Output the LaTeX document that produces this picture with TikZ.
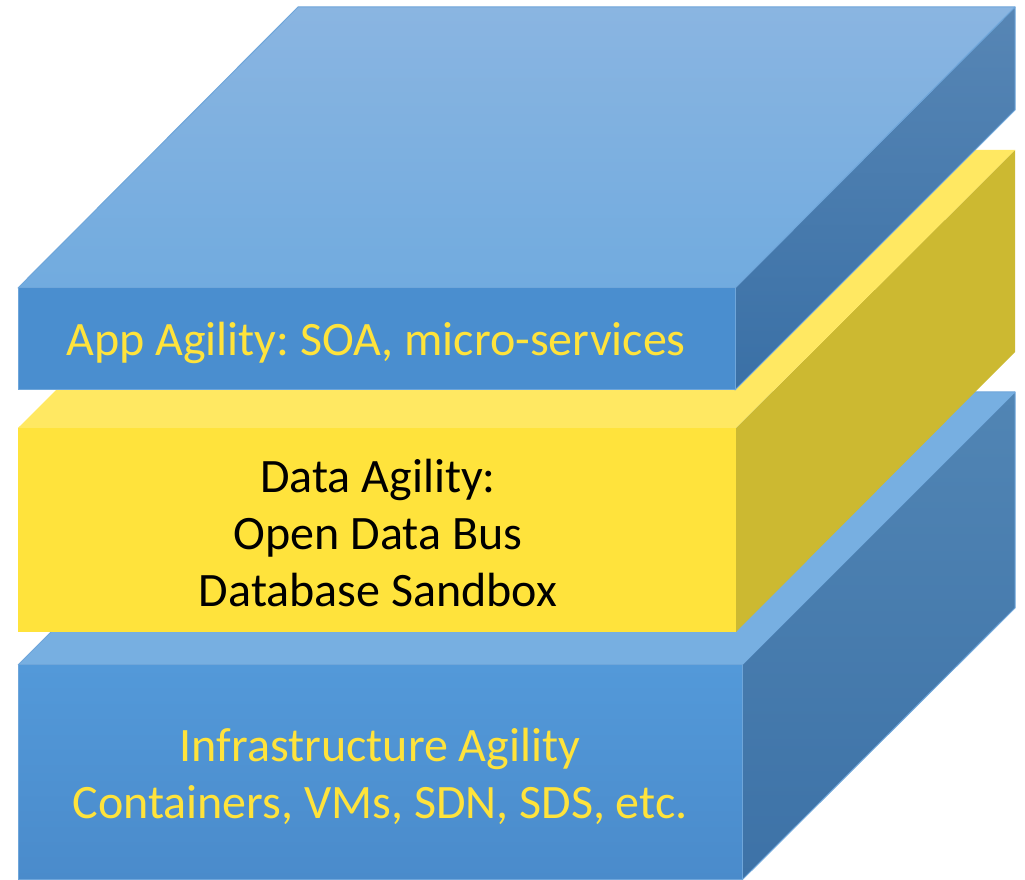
\documentclass[tikz,border=0pt]{standalone}
\usepackage{fontspec}
\setmainfont{Carlito}
\usetikzlibrary{positioning}

\definecolor{appfront}{HTML}{4A8ECF}
\definecolor{apptopA}{HTML}{8AB5E1}
\definecolor{apptopB}{HTML}{71ABDF}
\definecolor{appsideA}{HTML}{5786B5}
\definecolor{appsideB}{HTML}{3A70A6}
\definecolor{datafront}{HTML}{FFE33C}
\definecolor{datatop}{HTML}{FFE862}
\definecolor{dataside}{HTML}{CCB931}
\definecolor{infrafrontA}{HTML}{5399D9}
\definecolor{infrafrontB}{HTML}{4A8BCB}
\definecolor{infratop}{HTML}{77AFE1}
\definecolor{infrasideA}{HTML}{5185B4}
\definecolor{infrasideB}{HTML}{3D72A7}
\definecolor{edgeblue}{HTML}{6FA6DA}
\definecolor{labelyellow}{HTML}{FFE33B}

\tikzset{
  blueface/.style={draw=edgeblue, line width=1pt, line join=round},
  layertext/.style={font=\fontsize{48}{57}\selectfont\frenchspacing, align=center},
}

\begin{document}
\begin{tikzpicture}[x=1pt,y=1pt]
  \useasboundingbox (0,0) rectangle (1025,880);

  % infrastructure layer
  \coordinate (i_fl) at (18,0);
  \coordinate (i_fr) at (742,0);
  \coordinate (i_tr) at (742,215);
  \coordinate (i_tl) at (18,215);
  \coordinate (i_br) at (1015,488);
  \coordinate (i_bl) at (291,488);
  \coordinate (i_dr) at (1015,272);
  \shade[blueface, top color=infrasideA, bottom color=infrasideB]
    (i_tr) -- (i_br) -- (i_dr) -- (i_fr) -- cycle;
  \fill[infratop] (i_tl) -- (i_tr) -- (i_br) -- (i_bl) -- cycle;
  \draw[edgeblue, line width=1pt] (i_tl) -- (i_bl) -- (i_br);
  \shade[blueface, top color=infrafrontA, bottom color=infrafrontB]
    (i_fl) rectangle (i_tr);
  \node[layertext, text=labelyellow] (infra) at (380,104)
    {Infrastructure Agility\\Containers, VMs, SDN, SDS, etc.};

  % data layer
  \coordinate (d_fl) at (18,248);
  \coordinate (d_fr) at (736,248);
  \coordinate (d_tr) at (736,452);
  \coordinate (d_tl) at (18,452);
  \coordinate (d_br) at (1015,730);
  \coordinate (d_bl) at (297,730);
  \coordinate (d_dr) at (1015,528);
  \fill[dataside] (d_tr) -- (d_br) -- (d_dr) -- (d_fr) -- cycle;
  \fill[datatop] (d_tl) -- (d_tr) -- (d_br) -- (d_bl) -- cycle;
  \fill[datafront] (d_fl) rectangle (d_tr);
  \node[layertext, text=black] (data) at (378,347)
    {Data Agility:\\Open Data Bus\\Database Sandbox};

  % app layer
  \coordinate (a_fl) at (18,490);
  \coordinate (a_fr) at (735,490);
  \coordinate (a_tr) at (735,592);
  \coordinate (a_tl) at (18,592);
  \coordinate (a_br) at (1015,873);
  \coordinate (a_bl) at (298,873);
  \coordinate (a_dr) at (1015,770);
  \shade[blueface, top color=appsideA, bottom color=appsideB]
    (a_tr) -- (a_br) -- (a_dr) -- (a_fr) -- cycle;
  \shade[blueface, top color=apptopA, bottom color=apptopB]
    (a_tl) -- (a_tr) -- (a_br) -- (a_bl) -- cycle;
  \fill[appfront] (a_fl) rectangle (a_tr);
  \draw[edgeblue, line width=1pt] (a_fl) rectangle (a_tr);
  \node[layertext, text=labelyellow] (app) at (376,537)
    {App Agility: SOA, micro-services};
\end{tikzpicture}
\end{document}
